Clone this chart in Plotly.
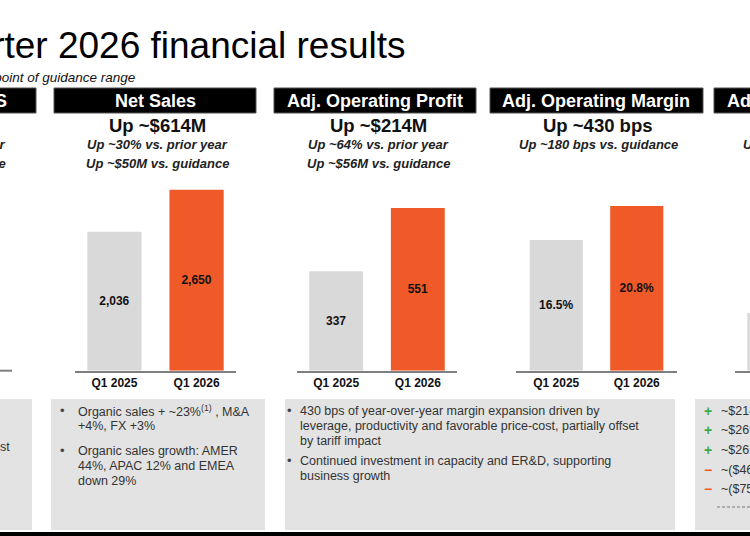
import plotly.graph_objects as go

W, H = 750, 536

# data
quarters = ['Q1 2025', 'Q1 2026']
net_sales = [2036, 2650]
adj_op_profit = [337, 551]
adj_op_margin = [16.5, 20.8]
fcf_partial = [265]  # only the left edge of this panel is visible

net_sales_lines = ['Up ~$614M', 'Up ~30% vs. prior year', 'Up ~$50M vs. guidance']
op_profit_lines = ['Up ~$214M', 'Up ~64% vs. prior year', 'Up ~$56M vs. guidance']
op_margin_lines = ['Up ~430 bps', 'Up ~180 bps vs. guidance']

net_sales_bullets = [
    ['Organic sales + ~23%<sup>(1)</sup> , M&amp;A', '+4%, FX +3%'],
    ['Organic sales growth: AMER', '44%, APAC 12% and EMEA', 'down 29%'],
]
op_bullets = [
    ['430 bps of year-over-year margin expansion driven by',
     'leverage, productivity and favorable price-cost, partially offset',
     'by tariff impact'],
    ['Continued investment in capacity and ER&amp;D, supporting', 'business growth'],
]
bridge_signs = ['+', '+', '+', '−', '−']
bridge_items = ['~$214M', '~$269M', '~$26M', '~($46M)', '~($75M)']

ORANGE = '#EF5A28'
GRAY = '#D9D9D9'
PANEL = '#E3E3E3'
AXIS = '#808080'
FONT = 'Liberation Sans, Arial, sans-serif'


def X(px):
    return px / W


def Y(py):
    return 1 - py / H


fig = go.Figure()

bar_cols = [GRAY, ORANGE]
fig.add_trace(go.Bar(x=quarters, y=net_sales, marker_color=bar_cols, width=0.66,
                     text=[f'{v:,}' for v in net_sales], xaxis='x', yaxis='y'))
fig.add_trace(go.Bar(x=quarters, y=adj_op_profit, marker_color=bar_cols, width=0.66,
                     text=[f'{v:,}' for v in adj_op_profit], xaxis='x2', yaxis='y2'))
fig.add_trace(go.Bar(x=quarters, y=adj_op_margin, marker_color=bar_cols, width=0.66,
                     text=[f'{v:.1f}%' for v in adj_op_margin], xaxis='x3', yaxis='y3'))
fig.update_traces(textposition='inside', insidetextanchor='middle', textangle=0,
                  texttemplate='<b>%{text}</b>',
                  textfont=dict(size=12, color='#111', family=FONT))
fig.add_trace(go.Bar(x=quarters[:1], y=fcf_partial, marker_color=GRAY, width=0.66,
                     xaxis='x4', yaxis='y4'))
fig.update_traces(marker_line_width=0, showlegend=False, hoverinfo='skip')

ydom = [Y(370.7), Y(180)]
xcommon = dict(type='category', showline=True, linecolor=AXIS, linewidth=2,
               ticks='', showgrid=False, zeroline=False, fixedrange=True)
ticks_font = dict(size=12, color='#111', family=FONT, weight='bold')
ycommon = dict(domain=ydom, visible=False, showgrid=False, zeroline=False)

fig.update_layout(
    xaxis=dict(domain=[X(75), X(236)], range=[-0.48, 1.48], anchor='y', tickfont=ticks_font, **xcommon),
    xaxis2=dict(domain=[X(297), X(457)], range=[-0.48, 1.48], anchor='y2', tickfont=ticks_font, **xcommon),
    xaxis3=dict(domain=[X(516), X(677)], range=[-0.5, 1.5], anchor='y3', tickfont=ticks_font, **xcommon),
    xaxis4=dict(domain=[X(735), 1.0], range=[-0.48, -0.297], anchor='y4',
                showticklabels=False, **xcommon),
    yaxis=dict(range=[0, 2792], anchor='x', **ycommon),
    yaxis2=dict(range=[0, 646], anchor='x2', **ycommon),
    yaxis3=dict(range=[0, 24.08], anchor='x3', **ycommon),
    yaxis4=dict(range=[0, 876], anchor='x4', **ycommon),
)

shapes = []
# black header boxes
for x0, x1 in [(-5, 36), (54, 256), (274, 476), (490, 703), (714, 760)]:
    shapes.append(dict(type='rect', xref='paper', yref='paper', x0=X(x0), x1=X(x1),
                       y0=Y(113), y1=Y(88), fillcolor='black', line=dict(color='#555', width=1)))
# grey commentary panels
for x0, x1 in [(-5, 32), (51, 265), (285, 675), (695, 760)]:
    shapes.append(dict(type='rect', xref='paper', yref='paper', x0=X(x0), x1=X(x1),
                       y0=Y(530), y1=Y(399), fillcolor=PANEL, line_width=0, layer='below'))
# bottom band
shapes.append(dict(type='rect', xref='paper', yref='paper', x0=0, x1=1,
                   y0=0, y1=Y(532), fillcolor='black', line_width=0))
# partial baseline at the left edge
shapes.append(dict(type='line', xref='paper', yref='paper', x0=0, x1=X(12),
                   y0=Y(370.7), y1=Y(370.7), line=dict(color=AXIS, width=2)))
# dashed total line in the right panel
shapes.append(dict(type='line', xref='paper', yref='paper', x0=X(717), x1=1,
                   y0=Y(507), y1=Y(507), line=dict(color='#777', width=1, dash='3px,2px')))

ann = []


def txt(text, px, py, size, color='#111', anchor='center', bold=False, italic=False):
    t = text
    if bold:
        t = f'<b>{t}</b>'
    if italic:
        t = f'<i>{t}</i>'
    ann.append(dict(text=t, x=X(px), y=Y(py), xref='paper', yref='paper',
                    xanchor=anchor, yanchor='middle', showarrow=False,
                    font=dict(size=size, color=color, family=FONT)))


# title and subtitle
txt('First Quarter 2026 financial results', 408, 46, 37, color='black', anchor='right')
txt('vs. mid-point of guidance range', 137, 77, 13.5, color='#111', anchor='right', italic=True)

# headers
txt('Adj. Diluted EPS', 8.5, 100.5, 18, color='white', anchor='right', bold=True)
txt('Net Sales', 155, 100.5, 18, color='white', bold=True)
txt('Adj. Operating Profit', 375, 100.5, 18, color='white', bold=True)
txt('Adj. Operating Margin', 596, 100.5, 18, color='white', bold=True)
txt('Adj. Free Cash Flow', 725, 100.5, 18, color='white', anchor='left', bold=True)

# headline numbers
for cx, lines in [(157, net_sales_lines), (378, op_profit_lines), (598, op_margin_lines)]:
    txt(lines[0], cx, 126, 18.5, bold=True)
    for i, line in enumerate(lines[1:]):
        txt(line, cx, 145 + 18 * i, 13, color='#222', bold=True, italic=True)
txt('vs. prior year', 7.5, 145, 13, color='#222', anchor='right', bold=True, italic=True)
txt('vs. guidance', 7.5, 163, 13, color='#222', anchor='right', bold=True, italic=True)
txt('Up vs. guidance', 741, 145, 13, color='#222', anchor='left', bold=True, italic=True)


# commentary bullets
def bullets(groups, bx, tx, starts):
    for lines, y0 in zip(groups, starts):
        txt('•', bx, y0 - 1, 13, color='#444')
        for i, line in enumerate(lines):
            txt(line, tx, y0 + 15 * i, 12.5, color='#333', anchor='left')


bullets(net_sales_bullets, 62, 76, [411, 451])
bullets(op_bullets, 289, 298, [411, 461])
txt('est', 12, 447, 12.5, color='#333', anchor='right')

for i, (s, item) in enumerate(zip(bridge_signs, bridge_items)):
    yy = 411 + 19.5 * i
    col = '#3DAA4A' if s == '+' else ORANGE
    txt(f'<b>{s}</b>', 708, yy, 14, color=col)
    txt(item, 719, yy, 12.5, color='#333', anchor='left')

fig.update_layout(
    width=W, height=H,
    margin=dict(l=0, r=0, t=0, b=0),
    paper_bgcolor='white', plot_bgcolor='white',
    bargap=0.3, showlegend=False,
    shapes=shapes, annotations=ann,
    font=dict(family=FONT),
)

fig.write_html('out.html', config={'displayModeBar': False},
               post_script="document.body.style.margin='0';")
